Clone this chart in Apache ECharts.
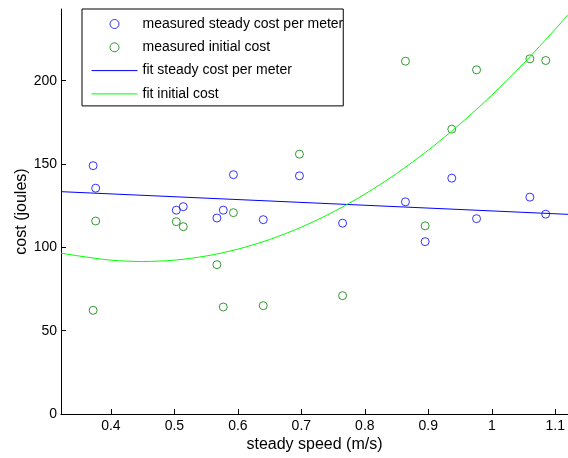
<!DOCTYPE html>
<html>
<head>
<meta charset="utf-8">
<script src="https://cdn.jsdelivr.net/npm/echarts@6/dist/echarts.min.js"></script>
<style>html,body{margin:0;padding:0;background:#fff}#c{width:568px;height:458px}</style>
</head>
<body>
<div id="c"></div>
<script>
var speeds = [0.372, 0.376, 0.503, 0.514, 0.567, 0.577, 0.593, 0.640, 0.697, 0.765, 0.864, 0.895, 0.937, 0.976, 1.060, 1.085];
var steadyCost = [149.0, 135.5, 122.3, 124.4, 117.6, 122.3, 143.6, 116.6, 142.9, 114.5, 127.3, 103.4, 141.5, 117.2, 130.1, 119.9];
var initialCost = [62.2, 115.8, 115.4, 112.4, 89.6, 64.2, 120.8, 65.0, 155.9, 71.0, 211.7, 112.9, 170.9, 206.5, 213.1, 212.1];
var fitSteadyX = [0.3214, 1.12];
var fitSteadyY = [133.4, 119.8];
var fitInitialX = [0.3214, 0.35, 0.4, 0.45, 0.5, 0.55, 0.6, 0.65, 0.7, 0.75, 0.8, 0.85, 0.9, 0.95, 1.0, 1.05, 1.1, 1.12];
var fitInitialY = [96.5, 94.8, 92.3, 91.5, 92.3, 94.8, 98.9, 104.7, 112.1, 121.2, 131.9, 144.3, 158.3, 174.0, 191.3, 210.3, 230.9, 239.5];
var xTicks = [0.4, 0.5, 0.6, 0.7, 0.8, 0.9, 1.0, 1.1];
var yTicks = [0, 50, 100, 150, 200];
var seriesNames = ['measured steady cost per meter', 'measured initial cost', 'fit steady cost per meter', 'fit initial cost'];

function zip(a, b) { return a.map(function (v, i) { return [v, b[i]]; }); }

var chart = echarts.init(document.getElementById('c'), null, {renderer: 'canvas'});
var axisCommon = {
  axisLine: {show: true, lineStyle: {color: '#000', width: 1}},
  axisTick: {show: true, inside: true, length: 5, lineStyle: {color: '#000'}},
  splitLine: {show: false},
  axisLabel: {color: '#000', fontSize: 14, margin: 4, fontFamily: 'Liberation Sans'},
  nameTextStyle: {color: '#000', fontSize: 16, fontFamily: 'Liberation Sans'},
  nameMoveOverlap: false
};
var hiddenDot = {color: 'rgba(0,0,0,0)', borderColor: 'rgba(0,0,0,0)', borderWidth: 0};
chart.setOption({
  animation: false,
  textStyle: {fontFamily: 'Liberation Sans'},
  grid: {left: 61, right: 0, top: 9, bottom: 44, containLabel: false},
  xAxis: Object.assign({}, axisCommon, {
    type: 'value', min: 0.3214, max: 1.12,
    name: 'steady speed (m/s)', nameLocation: 'middle', nameGap: 23,
    axisTick: Object.assign({}, axisCommon.axisTick, {customValues: xTicks}),
    axisLabel: Object.assign({}, axisCommon.axisLabel, {margin: 5, customValues: xTicks, formatter: function (v) { return String(+v.toFixed(1)); }})
  }),
  yAxis: Object.assign({}, axisCommon, {
    type: 'value', min: 0, max: 243,
    name: 'cost (joules)', nameLocation: 'middle', nameGap: 31,
    axisTick: Object.assign({}, axisCommon.axisTick, {customValues: yTicks}),
    axisLabel: Object.assign({}, axisCommon.axisLabel, {customValues: yTicks})
  }),
  legend: {
    orient: 'vertical', left: 82, top: 9,
    padding: [8, 0, 5, 9],
    itemWidth: 46, itemHeight: 9, itemGap: 9.3,
    borderColor: '#000', borderWidth: 1,
    textStyle: {color: '#000', fontSize: 14, fontFamily: 'Liberation Sans'},
    data: [
      {name: seriesNames[0], itemStyle: {borderWidth: 1}},
      {name: seriesNames[1], itemStyle: {borderWidth: 1}},
      {name: seriesNames[2], itemStyle: hiddenDot, lineStyle: {width: 1}},
      {name: seriesNames[3], itemStyle: hiddenDot, lineStyle: {width: 1}}
    ]
  },
  series: [
    {name: seriesNames[0], type: 'scatter', data: zip(speeds, steadyCost), symbol: 'circle', symbolSize: 8,
     itemStyle: {color: 'rgba(0,0,0,0)', borderColor: '#0000ff', borderWidth: 1}},
    {name: seriesNames[1], type: 'scatter', data: zip(speeds, initialCost), symbol: 'circle', symbolSize: 8,
     itemStyle: {color: 'rgba(0,0,0,0)', borderColor: '#008000', borderWidth: 1}},
    {name: seriesNames[2], type: 'line', data: zip(fitSteadyX, fitSteadyY), showSymbol: false, symbol: 'none',
     lineStyle: {color: '#0000ff', width: 1}, itemStyle: {color: '#0000ff'}},
    {name: seriesNames[3], type: 'line', data: zip(fitInitialX, fitInitialY), showSymbol: false, symbol: 'none', smooth: 0.3,
     lineStyle: {color: '#00ff00', width: 1}, itemStyle: {color: '#00ff00'}}
  ]
});
</script>
</body>
</html>
